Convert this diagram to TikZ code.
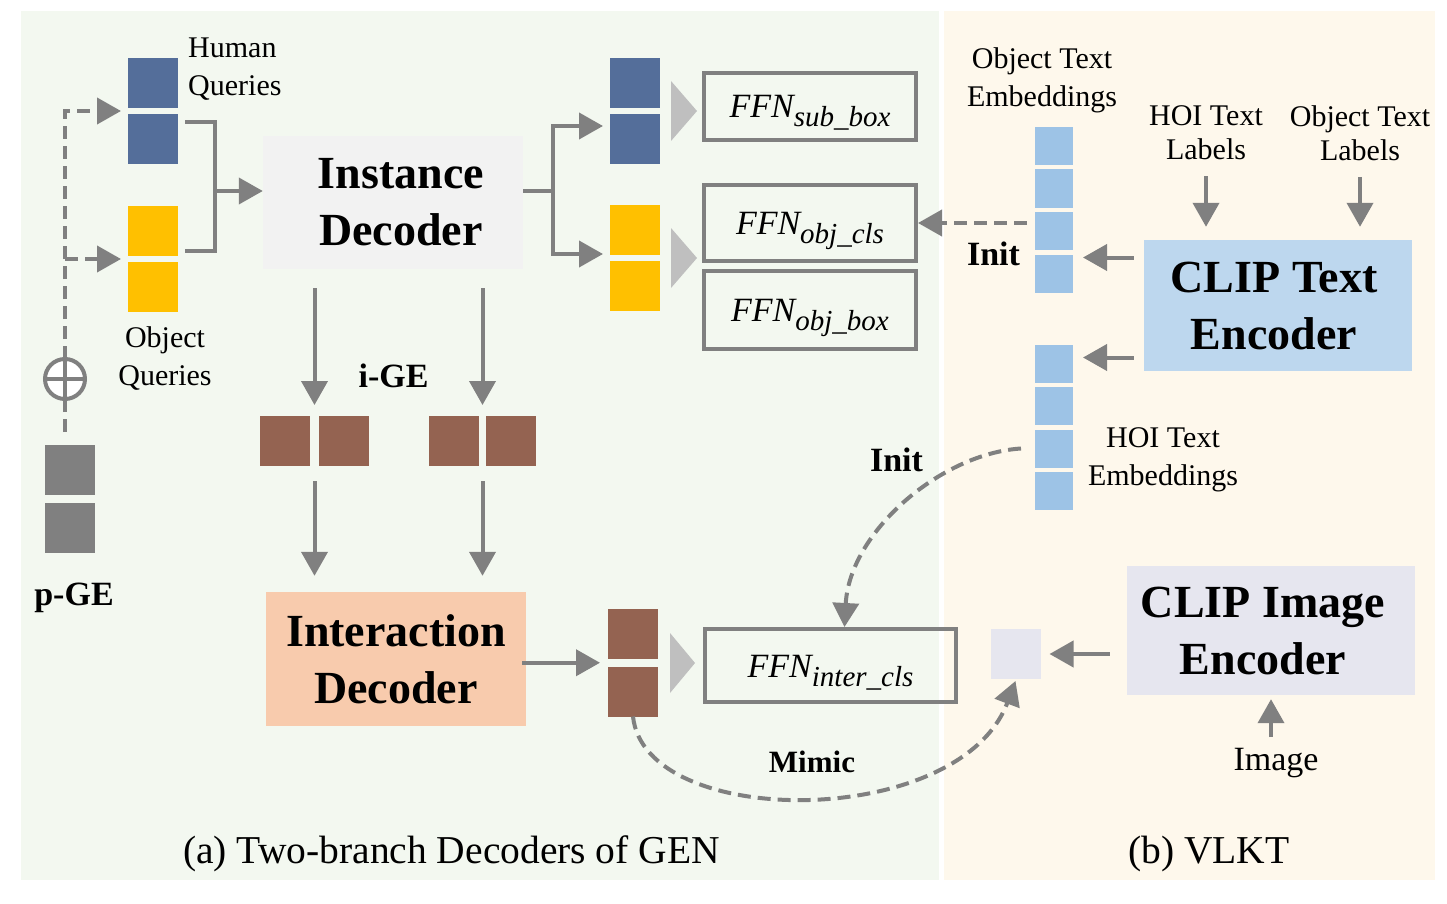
\documentclass[tikz,border=0pt]{standalone}
\usepackage{fontspec}
\setmainfont{Liberation Serif}
\usetikzlibrary{arrows.meta,calc}

\definecolor{fondoA}{HTML}{F3F8F0}
\definecolor{fondoB}{HTML}{FEF8EC}
\definecolor{azul}{HTML}{546E9A}
\definecolor{amarillo}{HTML}{FFC000}
\definecolor{gris}{HTML}{808080}
\definecolor{grisclaro}{HTML}{BFBFBF}
\definecolor{marron}{HTML}{946351}
\definecolor{celeste}{HTML}{9DC3E6}
\definecolor{clipazul}{HTML}{BDD7EE}
\definecolor{lavanda}{HTML}{E6E6EF}
\definecolor{salmon}{HTML}{F8CBAD}
\definecolor{blanco}{HTML}{F2F2F2}

\newcommand{\ffn}[1]{{\fontsize{34}{34}\selectfont\itshape FFN}\raisebox{-9pt}{\fontsize{29}{29}\selectfont\itshape #1}}

\tikzset{
  cuad/.style={minimum width=50pt, minimum height=50pt, inner sep=0pt, outer sep=0pt},
  emb/.style={minimum width=38pt, minimum height=38pt, inner sep=0pt, outer sep=0pt, fill=celeste},
  caja/.style={inner sep=0pt, align=center, font=\fontsize{46}{57}\selectfont\bfseries},
  ffnbox/.style={draw=gris, line width=4pt, inner sep=0pt, text height=23pt, text depth=0pt},
  etiq/.style={align=center, inner sep=0pt, font=\fontsize{30}{38}\selectfont},
  negrita/.style={inner sep=0pt, font=\fontsize{34}{34}\selectfont\bfseries},
  linea/.style={draw=gris, line width=4pt},
  flecha/.style={linea, -{Triangle[length=24pt,width=26pt]}},
  rayada/.style={flecha, dash pattern=on 13pt off 7pt},
}

\begin{document}
\begin{tikzpicture}[x=1pt,y=-1pt]
    % Fijar el tamaño
    \useasboundingbox (0,0) rectangle (1447,904);

    % Fondos de los dos paneles
    \fill[fondoA] (21,11) rectangle (939,880);
    \fill[fondoB] (944,11) rectangle (1435,880);

    % Consultas de humano y de objeto
    \node[cuad, fill=azul] (h1) at (153,83) {};
    \node[cuad, fill=azul] (h2) at (153,139) {};
    \node[cuad, fill=amarillo] (o1) at (153,231) {};
    \node[cuad, fill=amarillo] (o2) at (153,287) {};
    \node[etiq, align=left, anchor=west] (hlab) at (188,69.5) {Human\\Queries};
    \node[etiq] (olab) at (165,359) {Object\\Queries};

    % p-GE y la suma
    \node[cuad, fill=gris] (p1) at (70,470) {};
    \node[cuad, fill=gris] (p2) at (70,528) {};
    \node[negrita, anchor=base] (pge) at (74,605) {p-GE};
    \node[circle, draw=gris, fill=white, line width=4pt, minimum size=40pt, inner sep=0pt, outer sep=0pt] (suma) at (65,379) {};
    \draw[linea] (suma.north) -- (suma.south) (suma.west) -- (suma.east);

    \coordinate (hm) at ($(h1.south west)!0.5!(h2.north west)$);
    \coordinate (om) at ($(o1.south west)!0.5!(o2.north west)$);
    \draw[rayada] (suma.north) |- ([xshift=-7pt]hm);
    \draw[rayada] (suma.north) |- ([xshift=-7pt]om);
    \draw[linea, dash pattern=on 13pt off 7pt] ([yshift=13pt]p1.north -| suma) -- (suma.south);

    % Decodificador de instancias
    \node[caja, fill=blanco, minimum width=260pt, minimum height=133pt] (inst) at (393,202.5) {\hspace*{16pt}Instance\\\hspace*{16pt}Decoder};
    \coordinate (bq) at (215,191);
    \draw[linea] ([xshift=7pt,yshift=-8pt]h2.north east) -| (bq) |- ([xshift=7pt,yshift=5pt]o1.south east);
    \draw[flecha] (bq) -- (bq -| inst.west);

    % Salidas de instancias
    \node[cuad, fill=azul] (rh1) at (635,83) {};
    \node[cuad, fill=azul] (rh2) at (635,139) {};
    \node[cuad, fill=amarillo] (ro1) at (635,230) {};
    \node[cuad, fill=amarillo] (ro2) at (635,286) {};
    \coordinate (fk) at (553,191);
    \draw[linea] (fk -| inst.east) -- (fk);
    \draw[flecha] (fk) |- ([xshift=-7pt,yshift=13pt]rh2.west);
    \draw[flecha] (fk) |- ([xshift=-7pt,yshift=-24pt]ro1.west);

    \fill[grisclaro] (671,81) -- (697,111) -- (671,141) -- cycle;
    \fill[grisclaro] (671,228) -- (697,258) -- (671,288) -- cycle;
    \fill[grisclaro] (670,633) -- (695,663) -- (670,693) -- cycle;

    % Cabezas FFN
    \node[ffnbox, minimum width=212pt, minimum height=67pt] (fsub) at (810,106.5) {\ffn{sub\_box}};
    \node[ffnbox, minimum width=212pt, minimum height=76pt] (fcls) at (810,223) {\ffn{obj\_cls}};
    \node[ffnbox, minimum width=212pt, minimum height=78pt] (fobj) at (810,310) {\ffn{obj\_box}};
    \node[ffnbox, minimum width=251pt, minimum height=73pt] (finter) at (830.5,665.5) {\ffn{inter\_cls}};

    % i-GE
    \node[cuad, fill=marron] (g1) at (285,441) {};
    \node[cuad, fill=marron] (g2) at (344,441) {};
    \node[cuad, fill=marron] (g3) at (454,441) {};
    \node[cuad, fill=marron] (g4) at (511,441) {};
    \node[negrita, anchor=base] (ige) at (393.5,387) {i-GE};
    \coordinate (ga) at ($(g1)!0.5!(g2)$);
    \coordinate (gb) at ($(g3)!0.5!(g4)$);

    % Decodificador de interacciones
    \node[caja, fill=salmon, minimum width=260pt, minimum height=134pt] (idec) at (396,659) {Interaction\\Decoder};
    \draw[flecha] ([yshift=-19pt]inst.south -| ga) -- ([yshift=11pt]g1.north -| ga);
    \draw[flecha] ([yshift=-19pt]inst.south -| gb) -- ([yshift=11pt]g3.north -| gb);
    \draw[flecha] ([yshift=-15pt]g1.south -| ga) -- ([yshift=16pt]idec.north -| ga);
    \draw[flecha] ([yshift=-15pt]g3.south -| gb) -- ([yshift=16pt]idec.north -| gb);

    \node[cuad, fill=marron] (b1) at (633,634) {};
    \node[cuad, fill=marron] (b2) at (633,691.5) {};
    \coordinate (bm) at ($(b1.south west)!0.5!(b2.north west)$);
    \draw[flecha] ([xshift=-4pt]idec.east |- bm) -- ([xshift=-8pt]bm);

    % Embeddings de texto
    \foreach \i/\y in {1/146,2/188.5,3/231,4/273.5}
        \node[emb] (t\i) at (1054,\y) {};
    \foreach \i/\y in {1/363.5,2/406,3/448.5,4/491}
        \node[emb] (e\i) at (1054,\y) {};
    \node[etiq] (tlab) at (1042,80) {Object Text\\Embeddings};
    \node[etiq] (elab) at (1163,460) {HOI Text\\Embeddings};

    % Codificador de texto CLIP
    \node[etiq, font=\fontsize{30}{34}\selectfont] (hoil) at (1206,133) {HOI Text\\Labels};
    \node[etiq, font=\fontsize{30}{34}\selectfont] (objl) at (1360,133) {Object Text\\Labels};
    \node[caja, fill=clipazul, minimum width=268pt, minimum height=131pt] (ctxt) at (1278,305.5) {CLIP Text\hspace*{8pt}\\Encoder\hspace*{8pt}};
    \draw[flecha] ([yshift=-16pt]hoil.south) -- ([yshift=13pt]hoil.south |- ctxt.north);
    \draw[flecha] ([yshift=-16pt]objl.south) -- ([yshift=13pt]objl.south |- ctxt.north);
    \draw[flecha] ([xshift=-10pt,yshift=48pt]ctxt.west) -- ([xshift=10pt,yshift=48pt]ctxt.west -| t4.east);
    \draw[flecha] ([xshift=-10pt,yshift=-52pt]ctxt.west) -- ([xshift=10pt,yshift=-52pt]ctxt.west -| e1.east);

    % Inicializacion
    \draw[rayada] ([xshift=-8pt]t3.west |- fcls) -- (fcls.east);
    \node[negrita, anchor=base] (init1) at (993.5,265) {Init};
    \draw[rayada] ([xshift=-14pt]e3.west) .. controls +(-80,5) and +(5,-95) .. ([xshift=14pt]finter.north);
    \node[negrita, anchor=base] (init2) at (896.5,471) {Init};

    % Codificador de imagen CLIP
    \node[cuad, fill=lavanda] (img) at (1015.5,654) {};
    \node[caja, fill=lavanda, minimum width=288pt, minimum height=129pt] (cimg) at (1271,630.5) {CLIP Image\hspace*{16pt}\\Encoder\hspace*{16pt}};
    \draw[flecha] ([xshift=-17pt]cimg.west |- img) -- ([xshift=9pt]img.east);
    \node[etiq, anchor=base, font=\fontsize{34}{34}\selectfont] (imgl) at (1276,770) {Image};
    \draw[flecha] ([yshift=-42pt]cimg.south) -- ([yshift=-4pt]cimg.south);

    % Imitacion
    \draw[rayada] (b2.south) .. controls +(12,114) and +(-56,149) .. ([yshift=-2pt]img.south);
    \node[negrita, font=\fontsize{31}{31}\selectfont\bfseries, anchor=base] (mimic) at (812,772) {Mimic};

    % Titulos
    \node[anchor=base, inner sep=0pt, font=\fontsize{39.5}{39.5}\selectfont] (capa) at (451.5,863) {(a) Two-branch Decoders of GEN};
    \node[anchor=base, inner sep=0pt, font=\fontsize{39.5}{39.5}\selectfont] (capb) at (1209,863) {(b) VLKT};
\end{tikzpicture}
\end{document}
